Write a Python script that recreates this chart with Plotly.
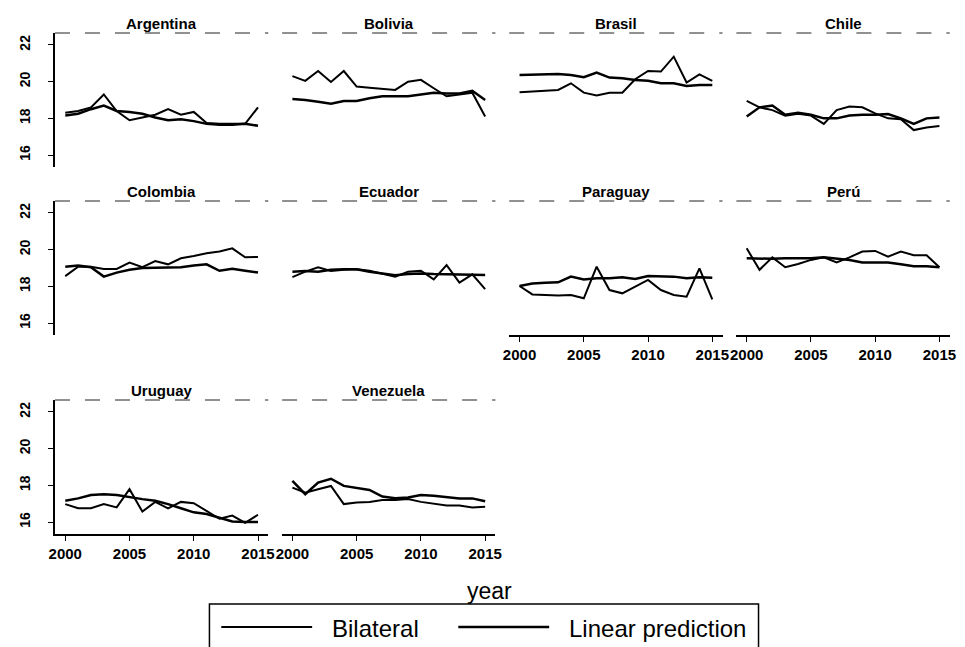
import plotly.graph_objects as go

years = list(range(2000, 2016))
countries = ["Argentina", "Bolivia", "Brasil", "Chile", "Colombia",
             "Ecuador", "Paraguay", "Perú", "Uruguay", "Venezuela"]
x_ticks = [2000, 2005, 2010, 2015]
y_ticks = [16, 18, 20, 22]

arg_bilateral = [18.3, 18.4, 18.6, 19.3, 18.4, 17.9, 18.05, 18.2, 18.5, 18.2, 18.35, 17.75, 17.7, 17.7, 17.7, 18.6]
arg_linear = [18.15, 18.25, 18.5, 18.7, 18.4, 18.35, 18.25, 18.05, 17.9, 17.95, 17.85, 17.7, 17.65, 17.65, 17.7, 17.6]
bol_bilateral = [20.3, 20.04, 20.58, 19.98, 20.58, 19.73, 19.67, 19.62, 19.55, 20.0, 20.1, 19.64, 19.2, 19.3, 19.4, 18.1]
bol_linear = [19.05, 19.0, 18.9, 18.8, 18.95, 18.95, 19.1, 19.2, 19.2, 19.2, 19.3, 19.4, 19.35, 19.35, 19.5, 19.0]
bra_bilateral = [19.42, 19.45, 19.5, 19.55, 19.91, 19.4, 19.24, 19.4, 19.4, 20.13, 20.58, 20.55, 21.36, 19.95, 20.4, 20.04]
bra_linear = [20.36, 20.38, 20.38, 20.42, 20.36, 20.24, 20.5, 20.22, 20.18, 20.09, 20.05, 19.91, 19.91, 19.76, 19.82, 19.82]
chi_bilateral = [18.95, 18.6, 18.45, 18.15, 18.25, 18.15, 17.7, 18.45, 18.64, 18.6, 18.27, 18.0, 17.95, 17.36, 17.5, 17.58]
chi_linear = [18.1, 18.6, 18.7, 18.2, 18.3, 18.2, 18.0, 18.0, 18.15, 18.2, 18.2, 18.24, 18.0, 17.7, 18.0, 18.05]
col_bilateral = [18.56, 19.07, 19.07, 18.95, 18.95, 19.3, 19.04, 19.38, 19.2, 19.53, 19.65, 19.8, 19.9, 20.07, 19.58, 19.6]
col_linear = [19.07, 19.13, 19.04, 18.53, 18.75, 18.9, 19.0, 19.02, 19.0, 19.04, 19.13, 19.2, 18.85, 18.96, 18.85, 18.75]
ecu_bilateral = [18.5, 18.8, 19.04, 18.84, 18.9, 18.93, 18.85, 18.67, 18.53, 18.8, 18.85, 18.38, 19.16, 18.2, 18.65, 17.85]
ecu_linear = [18.8, 18.84, 18.8, 18.9, 18.93, 18.93, 18.8, 18.7, 18.6, 18.67, 18.7, 18.67, 18.65, 18.65, 18.65, 18.62]
par_bilateral = [18.02, 17.56, 17.53, 17.5, 17.53, 17.35, 19.07, 17.8, 17.62, 17.98, 18.35, 17.8, 17.53, 17.44, 18.98, 17.29]
par_linear = [18.02, 18.16, 18.2, 18.22, 18.53, 18.38, 18.44, 18.44, 18.5, 18.4, 18.56, 18.56, 18.53, 18.44, 18.5, 18.47]
per_bilateral = [20.07, 18.9, 19.58, 19.04, 19.22, 19.44, 19.58, 19.3, 19.58, 19.9, 19.93, 19.62, 19.9, 19.7, 19.7, 19.04]
per_linear = [19.53, 19.5, 19.5, 19.53, 19.53, 19.53, 19.58, 19.53, 19.44, 19.3, 19.3, 19.3, 19.2, 19.1, 19.1, 19.04]
uru_bilateral = [16.98, 16.75, 16.75, 16.98, 16.8, 17.79, 16.57, 17.1, 16.75, 17.1, 17.03, 16.62, 16.18, 16.35, 15.96, 16.4]
uru_linear = [17.16, 17.29, 17.47, 17.52, 17.47, 17.34, 17.25, 17.16, 16.98, 16.75, 16.53, 16.44, 16.23, 16.03, 16.0, 16.0]
ven_bilateral = [17.88, 17.6, 17.79, 17.97, 16.98, 17.07, 17.1, 17.2, 17.2, 17.25, 17.1, 16.98, 16.9, 16.9, 16.8, 16.84]
ven_linear = [18.24, 17.52, 18.15, 18.36, 17.97, 17.88, 17.75, 17.39, 17.3, 17.34, 17.47, 17.43, 17.38, 17.29, 17.29, 17.13]

series = [
    (arg_bilateral, arg_linear), (bol_bilateral, bol_linear),
    (bra_bilateral, bra_linear), (chi_bilateral, chi_linear),
    (col_bilateral, col_linear), (ecu_bilateral, ecu_linear),
    (par_bilateral, par_linear), (per_bilateral, per_linear),
    (uru_bilateral, uru_linear), (ven_bilateral, ven_linear),
]

W, H = 965, 647
FONT = "Liberation Sans, Arial, Helvetica, sans-serif"

# panel geometry in pixels
col_left = [49.6 + 230 * c for c in range(4)]
panel_w = 216
row_top = [33, 201, 400]
panel_h = 134
x_range = [1999.2, 2015.8]
y_range = [15.35, 22.65]

# panels that carry the x axis labels (bottom of each column)
x_labelled = {"Paraguay", "Perú", "Uruguay", "Venezuela"}

fig = go.Figure()
layout = {}
annotations = []
shapes = []

for i, name in enumerate(countries):
    r, c = divmod(i, 4)
    k = "" if i == 0 else str(i + 1)
    x0 = col_left[c] / W
    x1 = (col_left[c] + panel_w) / W
    y1 = 1 - row_top[r] / H
    y0 = 1 - (row_top[r] + panel_h) / H
    bil, lin = series[i]
    fig.add_trace(go.Scatter(x=years, y=bil, mode="lines", name="Bilateral",
                             line=dict(color="black", width=2.0),
                             xaxis="x" + k, yaxis="y" + k, showlegend=False))
    fig.add_trace(go.Scatter(x=years, y=lin, mode="lines", name="Linear prediction",
                             line=dict(color="black", width=2.5),
                             xaxis="x" + k, yaxis="y" + k, showlegend=False))

    show_x = name in x_labelled
    layout["xaxis" + k] = dict(
        domain=[x0, x1], anchor="y" + k, range=x_range,
        tickvals=x_ticks, showgrid=False, zeroline=False,
        showline=show_x, linecolor="black", linewidth=1.8,
        ticks="outside" if show_x else "", ticklen=5, tickcolor="black",
        showticklabels=show_x,
        tickfont=dict(family=FONT, size=15, color="black", weight="bold"),
    )
    show_y = c == 0
    layout["yaxis" + k] = dict(
        domain=[y0, y1], anchor="x" + k, range=y_range,
        tickvals=y_ticks, showgrid=False, zeroline=False,
        showline=show_y, linecolor="black", linewidth=1.8,
        ticks="outside" if show_y else "", ticklen=5, tickcolor="black",
        showticklabels=show_y, tickangle=-90, ticklabelstandoff=12,
        tickfont=dict(family=FONT, size=14, color="black", weight="bold"),
    )
    # panel title
    annotations.append(dict(
        text=name, x=(x0 + x1) / 2, y=1 - (row_top[r] - 10) / H,
        xref="paper", yref="paper", xanchor="center", yanchor="middle",
        showarrow=False, font=dict(family=FONT, size=15, color="black", weight="bold"),
    ))
    # thin broken rule along the top edge of the panel
    shapes.append(dict(
        type="line", xref="paper", yref="paper",
        x0=x0, x1=x1, y0=y1, y1=y1,
        line=dict(color="#222222", width=1, dash="longdash"),
    ))

# x axis title
annotations.append(dict(
    text="year", x=490 / W, y=1 - 591 / H, xref="paper", yref="paper",
    xanchor="center", yanchor="middle", showarrow=False,
    font=dict(family=FONT, size=23, color="black"),
))

# legend box with its two keys
shapes.append(dict(type="rect", xref="paper", yref="paper",
                   x0=206 / W, x1=762 / W, y0=1 - 660 / H, y1=1 - 604 / H,
                   line=dict(color="black", width=1.5), fillcolor="white"))
shapes.append(dict(type="line", xref="paper", yref="paper",
                   x0=218 / W, x1=310 / W, y0=1 - 627 / H, y1=1 - 627 / H,
                   line=dict(color="black", width=2.0)))
shapes.append(dict(type="line", xref="paper", yref="paper",
                   x0=458 / W, x1=550 / W, y0=1 - 627 / H, y1=1 - 627 / H,
                   line=dict(color="black", width=2.5)))
annotations.append(dict(
    text="Bilateral", x=328 / W, y=1 - 628 / H, xref="paper", yref="paper",
    xanchor="left", yanchor="middle", showarrow=False,
    font=dict(family=FONT, size=24, color="black"),
))
annotations.append(dict(
    text="Linear prediction", x=568 / W, y=1 - 628 / H, xref="paper", yref="paper",
    xanchor="left", yanchor="middle", showarrow=False,
    font=dict(family=FONT, size=24, color="black"),
))

fig.update_layout(
    width=W, height=H,
    margin=dict(l=0, r=0, t=0, b=0),
    paper_bgcolor="white", plot_bgcolor="white",
    showlegend=False,
    annotations=annotations, shapes=shapes,
    **layout,
)

fig.write_html("out.html")
